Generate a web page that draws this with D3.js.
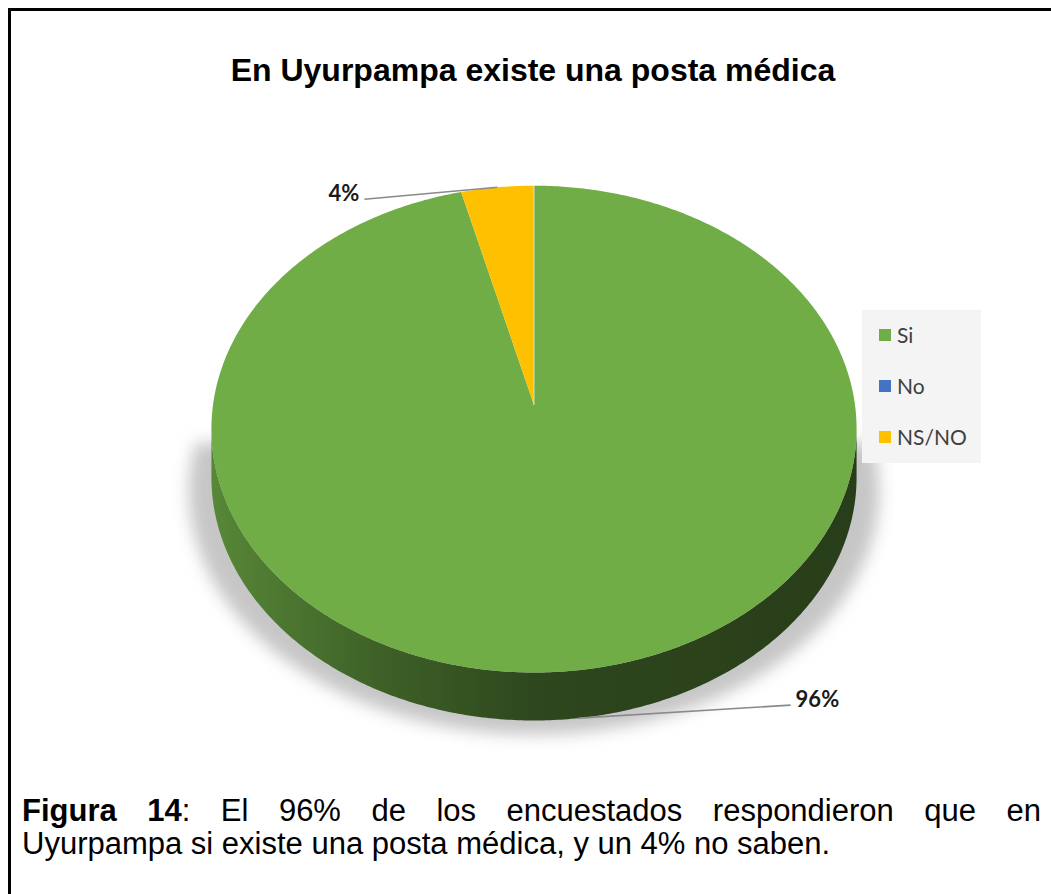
<!DOCTYPE html>
<html>
<head>
<meta charset="utf-8">
<script src="https://cdn.jsdelivr.net/npm/d3@7"></script>
<style>
  html, body { margin: 0; padding: 0; background: #fff; }
  svg { display: block; }
</style>
</head>
<body>
<svg id="chart" width="1051" height="894"></svg>
<script>
// chart data
var categories = ["Si", "No", "NS/NO"];
var values = [96, 0, 4];
var colors = ["#70AD47", "#4472C4", "#FFC000"];
var title = "En Uyurpampa existe una posta médica";
var captionLine1 = [
  [{t: "Figura", b: true}],
  [{t: "14", b: true}, {t: ":", b: false}],
  [{t: "El"}], [{t: "96%"}], [{t: "de"}], [{t: "los"}], [{t: "encuestados"}],
  [{t: "respondieron"}], [{t: "que"}], [{t: "en"}]
];
var captionLine2 = "Uyurpampa si existe una posta médica, y un 4% no saben.";

var svg = d3.select("#chart");
var W = 1051, H = 894;

// frame (only left/top edges visible in the crop)
svg.append("path")
  .attr("d", "M9.5," + (H + 10) + "V9.5H" + (W + 10))
  .attr("fill", "none")
  .attr("stroke", "#000")
  .attr("stroke-width", 3);

svg.append("text")
  .attr("x", 533).attr("y", 81)
  .attr("text-anchor", "middle")
  .style("font-family", "'Liberation Sans', Arial, sans-serif")
  .style("font-weight", "bold")
  .style("font-size", "32px")
  .attr("fill", "#000")
  .text(title);

// 3d pie projection
var cx = 534, cy = 405, rx = 321, ry = 241, k = 0.099, depth = 48;
function proj(a, dy) {
  var s = 1 / (1 + k * Math.cos(a));
  return [cx + rx * Math.sin(a) * s, cy - ry * Math.cos(a) * s + (dy || 0)];
}
function arcPts(a0, a1, dy) {
  var n = Math.max(2, Math.ceil(Math.abs(a1 - a0) / 0.01));
  var pts = [];
  for (var i = 0; i <= n; i++) pts.push(proj(a0 + (a1 - a0) * i / n, dy));
  return pts;
}

var pie = d3.pie().sort(null).value(function(d) { return d; });
var arcs = pie(values);
var line = d3.line();

var defs = svg.append("defs");
defs.append("filter").attr("id", "blur")
  .attr("x", "-20%").attr("y", "-20%").attr("width", "140%").attr("height", "140%")
  .append("feGaussianBlur").attr("stdDeviation", 8);

// floor shadow: bottom rim spread outward and pushed down
var sa = Math.acos(-k), sb = 2 * Math.PI - sa;
var shadowPts = arcPts(sa - 0.2, sb + 0.2, depth).map(function(p) {
  return [cx + (p[0] - cx) * 1.07, p[1] + 14];
});
svg.append("path")
  .attr("d", line(shadowPts) + "Z")
  .attr("fill", "#c6c6c6")
  .attr("filter", "url(#blur)");

// visible front side between silhouette angles
arcs.forEach(function(d, i) {
  var a0 = Math.max(d.startAngle, sa), a1 = Math.min(d.endAngle, sb);
  if (a1 <= a0) return;
  var c = d3.color(colors[i]);
  var gid = "side" + i;
  var g = defs.append("linearGradient").attr("id", gid)
    .attr("gradientUnits", "userSpaceOnUse")
    .attr("x1", cx - rx).attr("x2", cx + rx).attr("y1", 0).attr("y2", 0);
  [[0, 0.7], [0.25, 1.6], [0.5, 2.5], [1, 2.9]].forEach(function(s) {
    g.append("stop").attr("offset", s[0]).attr("stop-color", c.darker(s[1]).formatHex());
  });
  var top = arcPts(a0, a1, 0);
  var bot = arcPts(a1, a0, depth);
  svg.append("path")
    .attr("d", line(top.concat(bot)) + "Z")
    .attr("fill", "url(#" + gid + ")");
});

// top face
arcs.forEach(function(d, i) {
  if (d.endAngle - d.startAngle <= 0) return;
  var pts = [[cx, cy]].concat(arcPts(d.startAngle, d.endAngle, 0));
  svg.append("path")
    .attr("d", line(pts) + "Z")
    .attr("fill", colors[i]);
});
// light seam where the first slice starts
var seam = proj(arcs[0].startAngle, 0);
svg.append("line")
  .attr("x1", cx).attr("y1", cy).attr("x2", seam[0]).attr("y2", seam[1])
  .attr("stroke", "#e8efe0").attr("stroke-width", 1).attr("opacity", 0.8);

// data labels with leader lines
var labelFont = "Lato, 'Open Sans', sans-serif";
arcs.forEach(function(d, i) {
  if (d.value <= 0) return;
  var mid = (d.startAngle + d.endAngle) / 2;
  var front = Math.cos(mid) < 0;
  var p = proj(mid, front ? depth : 0);
  var q = front ? [p[0] + 212, p[1] - 13] : [p[0] - 133, p[1] + 12];
  svg.append("line")
    .attr("x1", p[0]).attr("y1", p[1]).attr("x2", q[0]).attr("y2", q[1])
    .attr("stroke", "#8a8a8a").attr("stroke-width", 1.6);
  svg.append("text")
    .attr("x", front ? q[0] + 5 : q[0] - 5)
    .attr("y", q[1] + 2)
    .attr("text-anchor", front ? "start" : "end")
    .style("font-family", labelFont)
    .style("font-weight", "bold")
    .style("font-size", "22px")
    .attr("fill", "#1a1a1a")
    .text(d.value + "%");
});

// legend
var lg = svg.append("g").attr("transform", "translate(862,310)");
lg.append("rect").attr("width", 119).attr("height", 153).attr("fill", "#f4f4f4");
var ly = d3.scalePoint().domain(categories).range([25, 127]);
categories.forEach(function(c, i) {
  lg.append("rect")
    .attr("x", 17).attr("y", ly(c) - 6)
    .attr("width", 12).attr("height", 12)
    .attr("fill", colors[i]);
  lg.append("text")
    .attr("x", 35).attr("y", ly(c) + 8)
    .style("font-family", labelFont)
    .style("font-size", "21px")
    .attr("fill", "#404040")
    .text(c);
});

// caption, first line justified
var capFont = "'Liberation Sans', Arial, sans-serif";
var capSize = "31px";
var x0 = 22, x1 = 1041;
var t1 = svg.append("text").attr("y", 821)
  .style("font-family", capFont).style("font-size", capSize).attr("fill", "#000");
var widths = captionLine1.map(function(word) {
  var tmp = svg.append("text").style("font-family", capFont).style("font-size", capSize);
  word.forEach(function(p) {
    tmp.append("tspan").style("font-weight", p.b ? "bold" : "normal").text(p.t);
  });
  var w = tmp.node().getComputedTextLength();
  tmp.remove();
  return w;
});
var gap = (x1 - x0 - d3.sum(widths)) / (captionLine1.length - 1);
var xx = x0;
captionLine1.forEach(function(word, i) {
  word.forEach(function(p, j) {
    var ts = t1.append("tspan")
      .style("font-weight", p.b ? "bold" : "normal")
      .text(p.t);
    if (j === 0) ts.attr("x", xx);
  });
  xx += widths[i] + gap;
});
svg.append("text").attr("x", x0).attr("y", 854)
  .style("font-family", capFont).style("font-size", capSize).attr("fill", "#000")
  .text(captionLine2);
</script>
</body>
</html>
